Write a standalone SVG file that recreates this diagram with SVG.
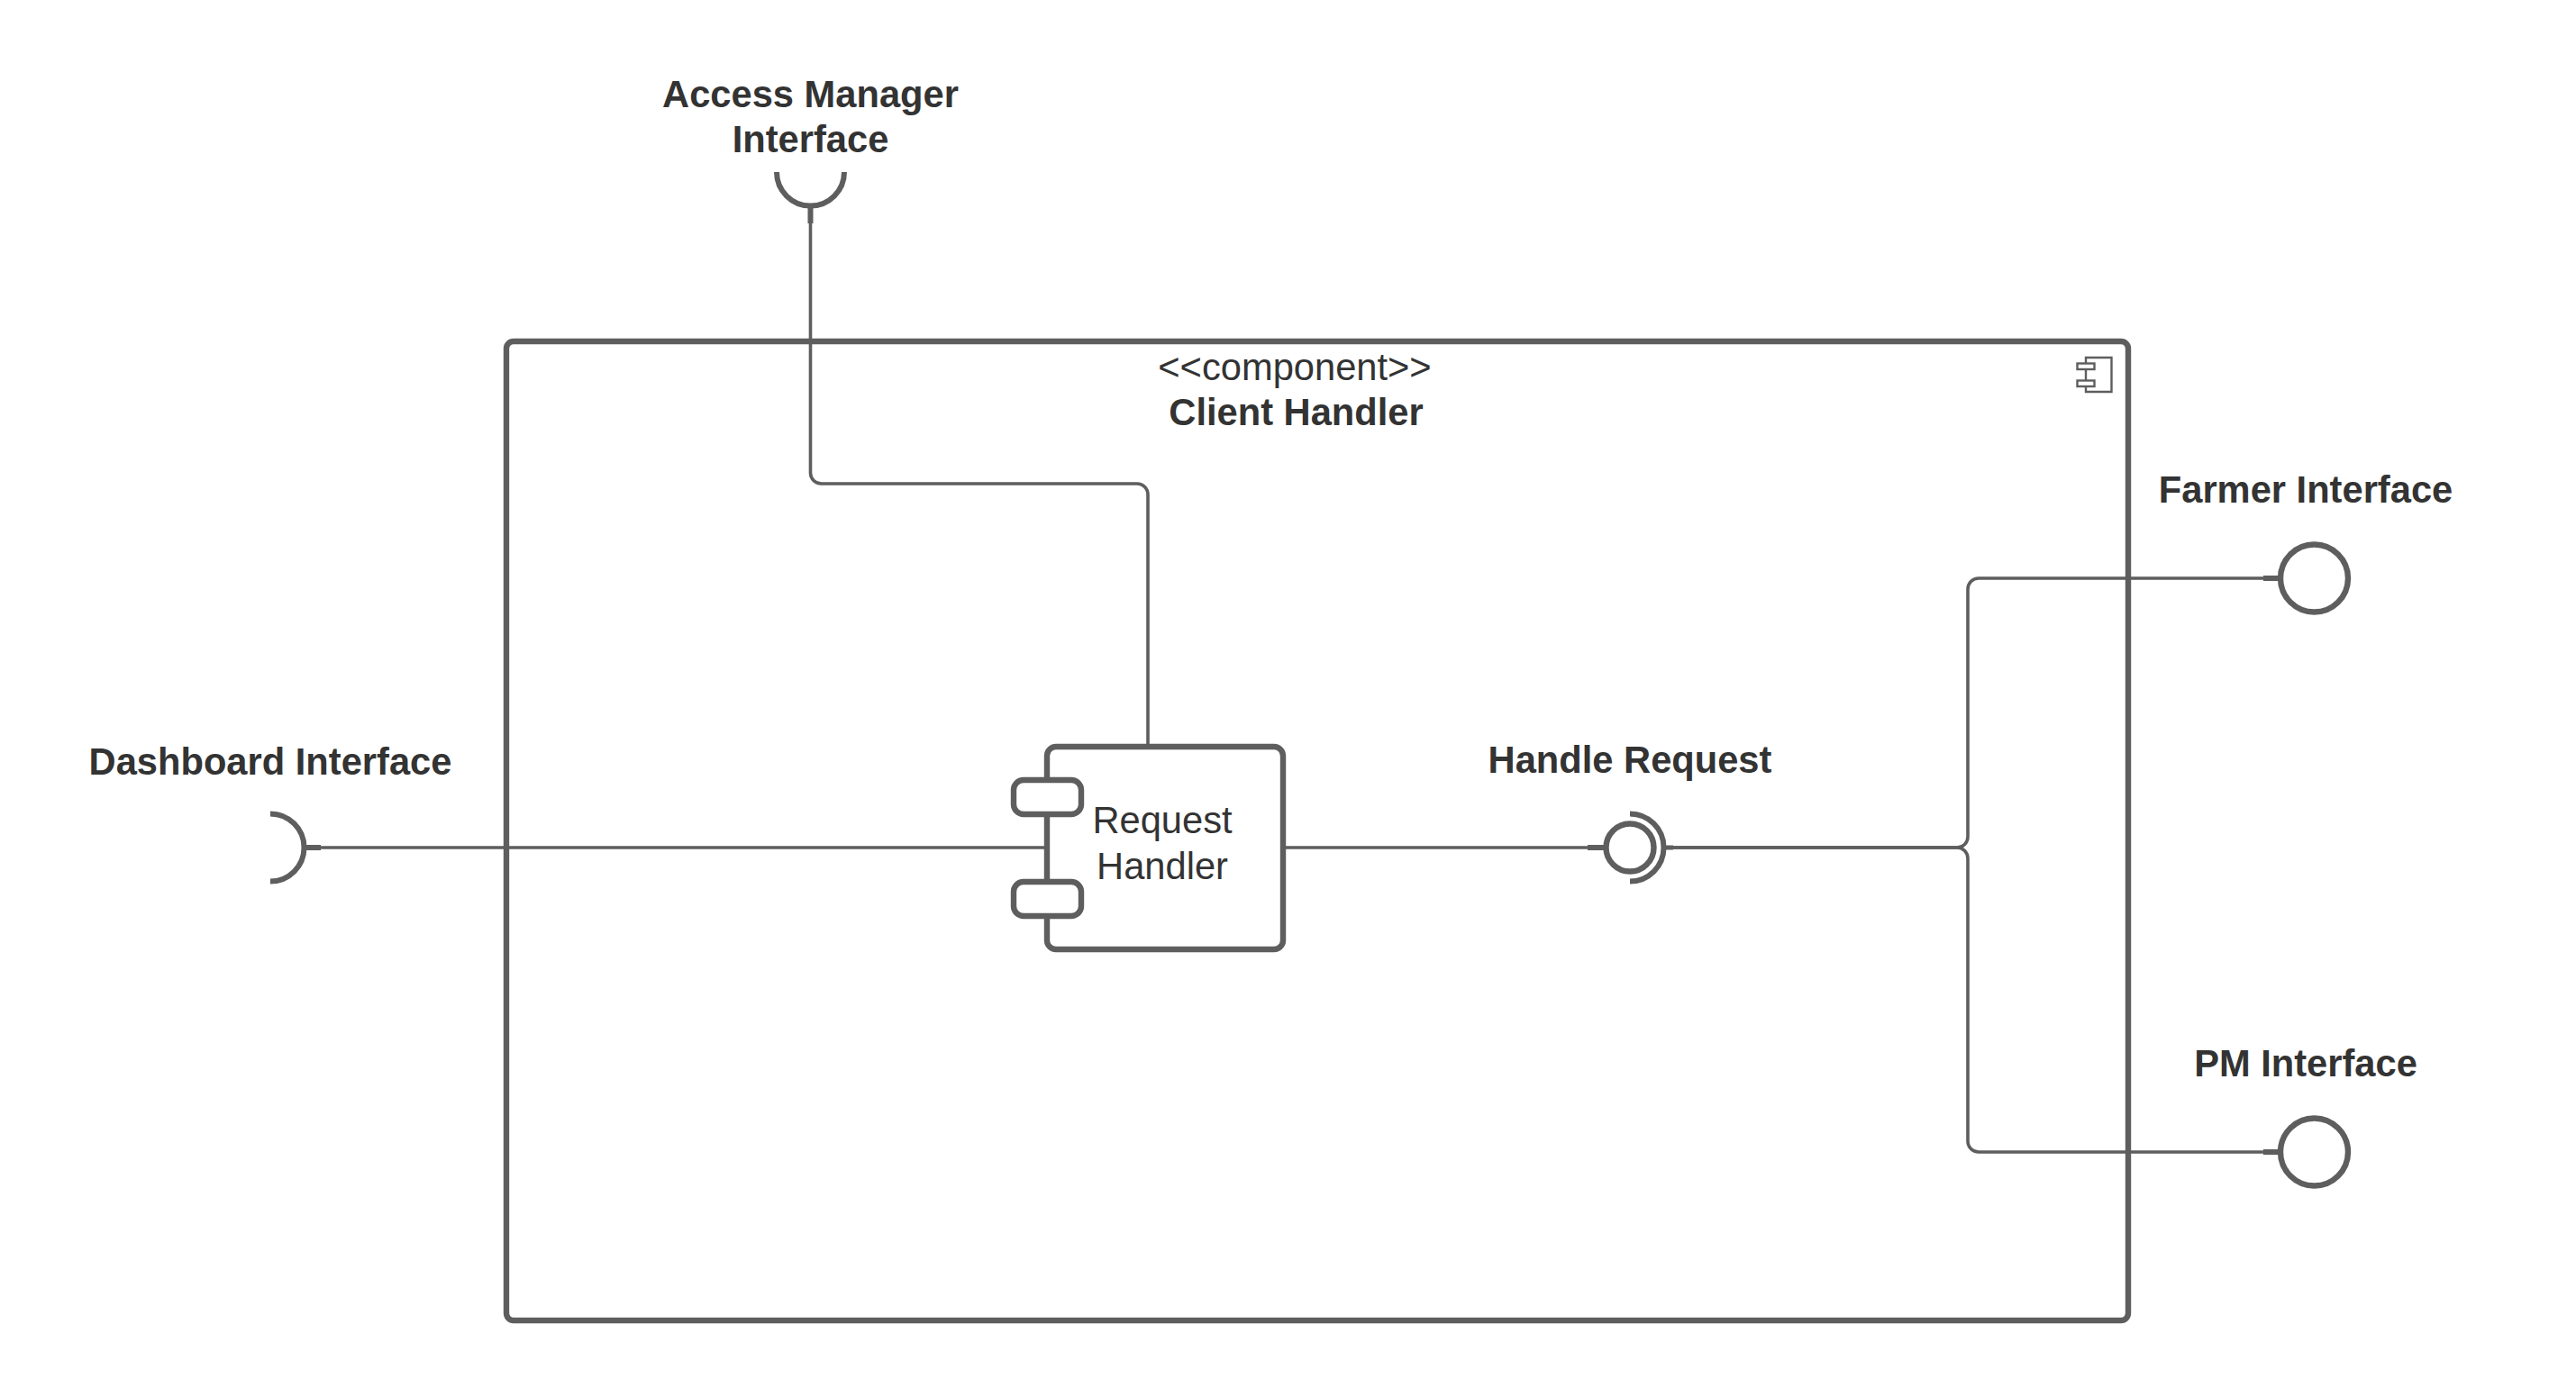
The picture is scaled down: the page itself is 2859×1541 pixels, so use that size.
<svg xmlns="http://www.w3.org/2000/svg" width="2859" height="1541" viewBox="0 0 2859 1541">
<style>
.l{fill:none;stroke:#5e5e5e;stroke-width:3.6}
.s{fill:none;stroke:#5e5e5e;stroke-width:6}
.b{fill:#fff;stroke:#5e5e5e;stroke-width:6.4}
.a{fill:none;stroke:#5e5e5e;stroke-width:6}
.i{fill:#fff;stroke:#5e5e5e;stroke-width:2.4}
text{font-family:"Liberation Sans",Arial,sans-serif;font-size:41.67px;fill:#333;text-anchor:middle}
.h{font-weight:bold}
</style>
<rect width="2859" height="1541" fill="#fff"/>
<g id="client-handler">
<rect class="b" x="562" y="379" width="1800" height="1087" rx="8"/>
<path class="i" d="M2315 397H2343.5V435H2315Z"/>
<rect class="i" x="2305.5" y="403.5" width="19" height="6.5"/>
<rect class="i" x="2305.5" y="422.5" width="19" height="6.5"/>
<text x="1437" y="422">&lt;&lt;component&gt;&gt;</text>
<text class="h" x="1438.5" y="472">Client Handler</text>
</g>
<g id="connectors">
<path class="l" d="M356 941H1162"/>
<path class="l" d="M899.5 248V525a12 12 0 0 0 12 12H1262a12 12 0 0 1 12 12V829"/>
<path class="l" d="M1424 941H1762"/>
<path class="l" d="M1856 941H2172a12 12 0 0 0 12 -12V654a12 12 0 0 1 12 -12H2512"/>
<path class="l" d="M1856 941H2172a12 12 0 0 1 12 12V1267a12 12 0 0 0 12 12H2512"/>
</g>
<g id="request-handler">
<rect class="b" x="1162" y="829" width="262" height="225" rx="10"/>
<rect class="b" x="1125" y="866" width="75" height="38" rx="11"/>
<rect class="b" x="1125" y="979" width="75" height="38" rx="11"/>
<text x="1290" y="925">Request</text>
<text x="1290" y="976">Handler</text>
</g>
<g id="dashboard-interface">
<path class="s" d="M338 941H356"/>
<path class="a" d="M300 903.5A37.5 37.5 0 0 1 300 978.5"/>
<text class="h" x="300" y="860">Dashboard Interface</text>
</g>
<g id="access-manager-interface">
<path class="s" d="M899.5 229V248"/>
<path class="a" d="M862 191A37.5 37.5 0 0 0 937 191"/>
<text class="h" x="899.5" y="118.5">Access Manager</text>
<text class="h" x="899.5" y="168.5">Interface</text>
</g>
<g id="handle-request">
<path class="s" d="M1762 941H1783"/>
<circle class="b" cx="1809" cy="941" r="26.5"/>
<path class="a" d="M1809 903.5A37.5 37.5 0 0 1 1809 978.5"/>
<path class="s" style="stroke-width:5" d="M1846 941H1857"/>
<text class="h" x="1809" y="858">Handle Request</text>
</g>
<g id="farmer-interface">
<path class="s" d="M2512 642H2531"/>
<circle class="b" cx="2568.5" cy="642" r="37.5"/>
<text class="h" x="2559" y="558">Farmer Interface</text>
</g>
<g id="pm-interface">
<path class="s" d="M2512 1279H2531"/>
<circle class="b" cx="2568.5" cy="1279" r="37.5"/>
<text class="h" x="2559" y="1195">PM Interface</text>
</g>
</svg>
